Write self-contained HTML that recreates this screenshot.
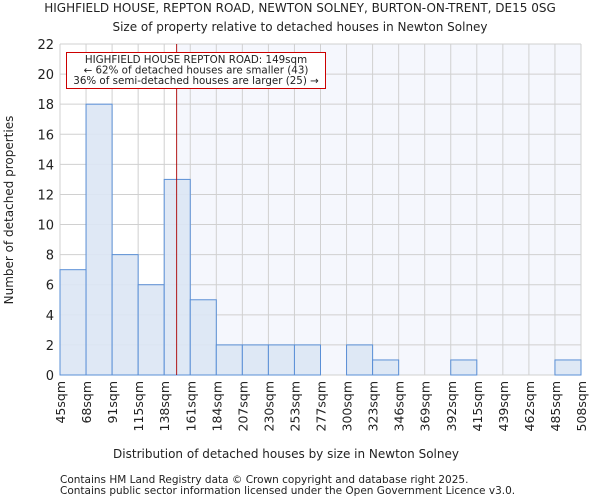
<!DOCTYPE html>
<html><head><meta charset="utf-8"><style>
body{margin:0;background:#fff;font-family:"DejaVu Sans","Liberation Sans",sans-serif;}
svg text{font-family:"DejaVu Sans","Liberation Sans",sans-serif;fill:#222;}
</style></head><body>
<svg id="chart" width="600" height="500" viewBox="0 0 600 500" xmlns="http://www.w3.org/2000/svg">
<text x="300" y="12" font-size="12" text-anchor="middle">HIGHFIELD HOUSE, REPTON ROAD, NEWTON SOLNEY, BURTON-ON-TRENT, DE15 0SG</text>
<text x="300" y="31" font-size="12" text-anchor="middle">Size of property relative to detached houses in Newton Solney</text>
<g id="plot"></g>
<text x="286" y="458" font-size="12" text-anchor="middle">Distribution of detached houses by size in Newton Solney</text>
<text transform="translate(13,210) rotate(-90)" font-size="12" text-anchor="middle">Number of detached properties</text>
<text x="60" y="483" font-size="10.5">Contains HM Land Registry data © Crown copyright and database right 2025.</text>
<text x="60" y="494" font-size="10.5">Contains public sector information licensed under the Open Government Licence v3.0.</text>
</svg>
<script>
const binLabels=["45sqm","68sqm","91sqm","115sqm","138sqm","161sqm","184sqm","207sqm","230sqm","253sqm","277sqm","300sqm","323sqm","346sqm","369sqm","392sqm","415sqm","439sqm","462sqm","485sqm","508sqm"];
const binEdges=[45,68,91,115,138,161,184,207,230,253,277,300,323,346,369,392,415,439,462,485,508];
const counts=[7,18,8,6,13,5,2,2,2,2,0,2,1,0,0,1,0,0,0,1];
const yTicks=[0,2,4,6,8,10,12,14,16,18,20,22];
const markerValue=149;
const NS="http://www.w3.org/2000/svg";
const g=document.getElementById('plot');
const L=60,R=581,T=44,B=375,yMax=22;
const nb=counts.length;
const xi=i=>L+(R-L)*i/nb;
const xv=v=>{for(let i=0;i<nb;i++){if(v<=binEdges[i+1]){return xi(i)+(v-binEdges[i])/(binEdges[i+1]-binEdges[i])*(R-L)/nb;}}return R;};
const y=v=>B-(B-T)*v/yMax;
function mk(t,a){const e=document.createElementNS(NS,t);for(const k in a)e.setAttribute(k,a[k]);g.appendChild(e);return e;}
const mx=xv(markerValue);
let e=mk('rect',{x:mx,y:T,width:R-mx,height:B-T,fill:'#f5f7fd'});


yTicks.forEach(t=>{
 let l=mk('line',{x1:L,x2:R,y1:y(t),y2:y(t),stroke:'#d0d0d0','stroke-width':1});
 
 
 let tx=mk('text',{x:L-6,y:y(t)+5,'font-size':13,'text-anchor':'end'});
 tx.textContent=t;
 
 
});
binLabels.forEach((lab,i)=>{
 let l=mk('line',{x1:xi(i),x2:xi(i),y1:T,y2:B,stroke:'#d0d0d0','stroke-width':1});
 
 
 let tx=mk('text',{transform:`translate(${xi(i)+5},${B+6}) rotate(-90)`,'font-size':12.5,'text-anchor':'end'});
 tx.textContent=lab;
 
 
});
counts.forEach((c,i)=>{
 if(c<=0)return;
 let r=mk('rect',{x:xi(i),y:y(c),width:xi(i+1)-xi(i),height:B-y(c),fill:'#dbe5f4',stroke:'#5a8fd6','stroke-width':1,'fill-opacity':0.9});
 
 
});
e=mk('line',{x1:mx,x2:mx,y1:T,y2:B,stroke:'#a00','stroke-width':0.9});


e=mk('rect',{x:66.5,y:52.5,width:259,height:36,fill:'#fff',stroke:'#c00','stroke-width':1});


["HIGHFIELD HOUSE REPTON ROAD: 149sqm","← 62% of detached houses are smaller (43)","36% of semi-detached houses are larger (25) →"].forEach((s,i)=>{
 let tx=mk('text',{x:196,y:63+i*10.5,'font-size':10.3,'text-anchor':'middle'});
 tx.textContent=s;
 
 
});
</script>
</body></html>
